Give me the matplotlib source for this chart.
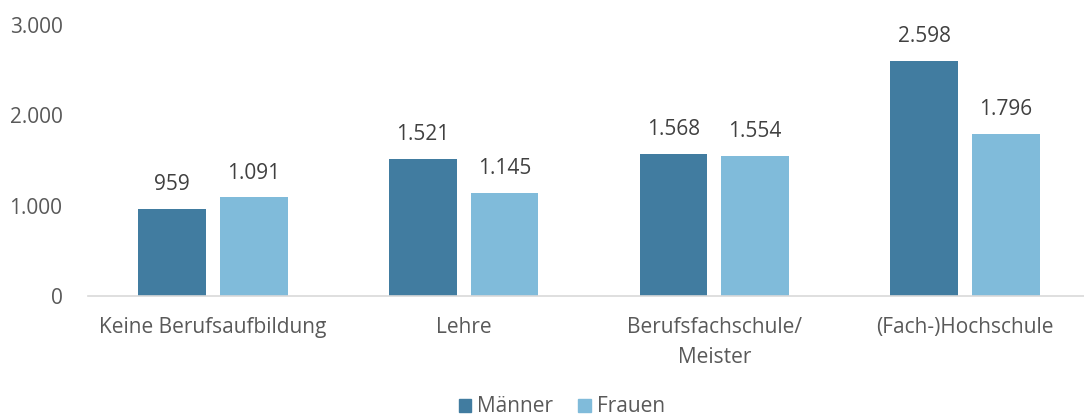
import numpy as np
import matplotlib.pyplot as plt
from matplotlib.patches import Patch

# data
categories = ["Keine Berufsaufbildung", "Lehre", "Berufsfachschule/\nMeister", "(Fach-)Hochschule"]
maenner = [959, 1521, 1568, 2598]
frauen = [1091, 1145, 1554, 1796]
series_names = ["Männer", "Frauen"]

dark = "#417ca0"
light = "#80bbda"

plt.rcParams['font.family'] = ['Open Sans', 'DejaVu Sans']

W, H = 1084, 418
fig = plt.figure(figsize=(W / 100, H / 100), dpi=100)
# axes box in pixels: left 87.5, right ~1090, baseline 296, top 25
ax = fig.add_axes([87.5 / W, 1 - 296 / H, (1090.5 - 87.5) / W, (296 - 25) / H])

x = np.arange(len(categories))
bw = 0.27
off = 0.163
b1 = ax.bar(x - off, maenner, bw, color=dark)
b2 = ax.bar(x + off, frauen, bw, color=light)

def fmt(v):
    return f"{v:,}".replace(",", ".")

for bars, vals in [(b1, maenner), (b2, frauen)]:
    for r, v in zip(bars, vals):
        ax.annotate(fmt(v), (r.get_x() + r.get_width() / 2, v), xytext=(0, 10),
                    textcoords='offset points', ha='center', va='bottom',
                    fontsize=15, color='#404040')

ax.set_xlim(-0.5, len(categories) - 0.5)
ax.set_ylim(0, 3000)
ax.set_yticks([0, 1000, 2000, 3000])
ax.set_yticklabels([fmt(t) for t in [0, 1000, 2000, 3000]])
ax.set_xticks(x)
ax.set_xticklabels(categories, linespacing=1.55)
ax.tick_params(axis='both', length=0, labelsize=15, colors='#595959')
ax.tick_params(axis='y', pad=18)
ax.tick_params(axis='x', pad=15)
for s in ['top', 'right', 'left']:
    ax.spines[s].set_visible(False)
ax.spines['bottom'].set_color('#d9d9d9')
ax.spines['bottom'].set_linewidth(1.2)

handles = [Patch(color=dark), Patch(color=light)]
fig.legend(handles, series_names, loc='center', bbox_to_anchor=(562 / W, 1 - 407 / H), ncol=2,
           frameon=False, fontsize=15, handlelength=0.6, handleheight=0.6,
           handletextpad=0.3, columnspacing=1.2, labelcolor='#595959')

fig.savefig('out.png', dpi=100)
